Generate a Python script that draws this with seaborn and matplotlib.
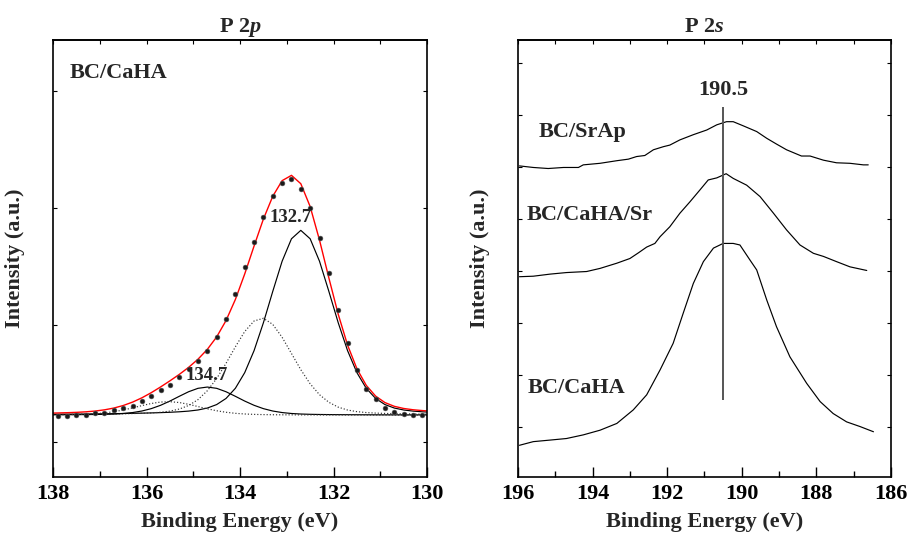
import numpy as np
import pandas as pd
import matplotlib
matplotlib.use("Agg")
import matplotlib.pyplot as plt
from matplotlib.ticker import MultipleLocator
import seaborn as sns

# ---------------- P 2p (BC/CaHA): measured points ----------------
p2p_energy = np.linspace(137.9, 130.1, 40)
p2p_counts = [1221, 1221, 1230, 1230, 1247, 1247, 1273, 1290, 1307, 1350,
              1392, 1444, 1486, 1555, 1623, 1692, 1777, 1897, 2051, 2264,
              2495, 2709, 2922, 3102, 3213, 3247, 3162, 2999, 2743, 2444,
              2127, 1845, 1615, 1452, 1367, 1290, 1256, 1239, 1230, 1230]

# fitted components (2p3/2 solid, 2p1/2 dotted)
p2p_background = 1230
comp_centers = [132.7, 133.54, 134.7, 135.54]
comp_heights = [1581, 830, 240, 115]
comp_fwhm = [1.6, 1.6, 1.6, 1.6]
comp_styles = ["-", ":", "-", ":"]
comp_eta = 0.2          # Lorentzian fraction of the pseudo-Voigt
peak_labels = ["132.7", "134.7"]

# ---------------- P 2s: three stacked spectra ----------------
srap_energy = [195.96, 195.59, 195.19, 194.78, 194.38, 194.25, 193.80, 193.35,
               193.04, 192.82, 192.60, 192.37, 192.10, 191.93, 191.66, 191.30,
               190.94, 190.67, 190.41, 190.23, 189.96, 189.60, 189.33, 189.07,
               188.80, 188.40, 188.17, 187.81, 187.46, 187.10, 186.74, 186.61]
srap_int = [6.02, 5.99, 5.97, 5.99, 5.99, 6.04, 6.07, 6.12,
            6.15, 6.20, 6.22, 6.33, 6.39, 6.42, 6.52, 6.62,
            6.71, 6.81, 6.87, 6.87, 6.79, 6.68, 6.55, 6.44,
            6.33, 6.21, 6.21, 6.13, 6.08, 6.07, 6.04, 6.04]

cahasr_energy = [195.96, 195.59, 195.14, 194.70, 194.16, 193.80, 193.35, 193.00,
                 192.77, 192.55, 192.33, 192.19, 191.93, 191.66, 191.39, 191.12,
                 190.90, 190.67, 190.42, 190.23, 189.87, 189.51, 189.15, 188.80,
                 188.44, 188.08, 187.81, 187.46, 187.10, 186.65]
cahasr_int = [3.89, 3.90, 3.94, 3.97, 3.99, 4.05, 4.15, 4.24,
              4.35, 4.46, 4.53, 4.66, 4.85, 5.11, 5.33, 5.56,
              5.75, 5.79, 5.87, 5.78, 5.65, 5.43, 5.11, 4.79,
              4.50, 4.34, 4.28, 4.18, 4.08, 4.01]

caha_energy = [195.96, 195.59, 195.14, 194.70, 194.25, 193.80, 193.35, 192.91,
               192.55, 192.19, 191.84, 191.57, 191.30, 191.03, 190.76, 190.50,
               190.23, 190.05, 189.78, 189.60, 189.33, 189.07, 188.71, 188.26,
               187.90, 187.55, 187.19, 186.83, 186.47]
caha_int = [0.65, 0.72, 0.75, 0.78, 0.85, 0.94, 1.07, 1.33,
            1.62, 2.10, 2.61, 3.19, 3.76, 4.18, 4.44, 4.53,
            4.53, 4.50, 4.21, 4.02, 3.44, 2.93, 2.35, 1.84,
            1.49, 1.26, 1.10, 1.01, 0.91]

p2s_names = ["BC/SrAp", "BC/CaHA/Sr", "BC/CaHA"]
p2s_peak = 190.5


def pseudo_voigt(x, center, height, fwhm, eta):
    hw = fwhm / 2.0
    g = np.exp(-np.log(2) * ((x - center) / hw) ** 2)
    lor = 1.0 / (1.0 + ((x - center) / hw) ** 2)
    return height * ((1 - eta) * g + eta * lor)


sns.set_style("ticks")
plt.rcParams.update({
    "font.family": ["Liberation Serif", "DejaVu Serif"],
    "font.weight": "bold",
    "font.size": 16,
    "axes.labelweight": "bold",
    "axes.titleweight": "bold",
    "mathtext.fontset": "custom",
    "mathtext.rm": "Liberation Serif:bold",
    "mathtext.it": "Liberation Serif:italic:bold",
    "mathtext.bf": "Liberation Serif:bold",
    "axes.linewidth": 1.2,
    "axes.edgecolor": "black",
    "xtick.color": "black",
    "ytick.color": "black",
    "xtick.direction": "in",
    "ytick.direction": "in",
})

fig = plt.figure(figsize=(9.16, 5.37), dpi=100)
ax1 = fig.add_axes([0.0579, 0.1117, 0.4083, 0.8138])
ax2 = fig.add_axes([0.5655, 0.1117, 0.4072, 0.8138])

# ---------------- left panel ----------------
grid = np.concatenate([[138.0], p2p_energy, [130.0]])
envelope = np.full_like(grid, float(p2p_background))
for c, h, w, ls in zip(comp_centers, comp_heights, comp_fwhm, comp_styles):
    comp = pseudo_voigt(grid, c, h, w, comp_eta)
    envelope += comp
    sns.lineplot(x=grid, y=p2p_background + comp, ax=ax1, sort=False,
                 estimator=None, color="black" if ls == "-" else "#333333",
                 linestyle=ls, lw=0.85)
sns.lineplot(x=grid, y=envelope, ax=ax1, sort=False, estimator=None,
             color="red", lw=1.0)
sns.scatterplot(x=p2p_energy, y=p2p_counts, ax=ax1, s=12, color="#1a1a1a",
                edgecolor="#555555", linewidth=0.4, zorder=5)

for lab, c, h, off in zip(peak_labels, [comp_centers[0], comp_centers[2]],
                          [comp_heights[0], comp_heights[2]],
                          [(-7, 9.5), (-0.5, 8.5)]):
    ax1.annotate(lab, xy=(c, p2p_background + h), xytext=off,
                 textcoords="offset points", ha="center", va="center",
                 fontsize=13.5, fontweight="bold", zorder=6)

ax1.text(137.64, 4158, "BC/CaHA", ha="left", va="center", fontsize=16,
         fontweight="bold")

ax1.set_xlim(138, 130)
ax1.set_ylim(700, 4440)
ax1.xaxis.set_major_locator(MultipleLocator(2))
ax1.xaxis.set_minor_locator(MultipleLocator(1))
ax1.yaxis.set_major_locator(MultipleLocator(1000))
ax1.set_title(r"P 2$\mathit{p}$", fontsize=16, fontweight="bold", pad=6)

# ---------------- right panel ----------------
for e, i in [(srap_energy, srap_int), (cahasr_energy, cahasr_int),
             (caha_energy, caha_int)]:
    sns.lineplot(x=e, y=i, ax=ax2, sort=False, estimator=None,
                 color="black", lw=0.85)

ax2.vlines(p2s_peak, 1.52, 7.15, color="#555555", lw=1.4)
ax2.text(p2s_peak, 7.48, f"{p2s_peak:.1f}", ha="center", va="center",
         fontsize=16, fontweight="bold")
for name, xy in zip(p2s_names, [(195.46, 6.67), (195.76, 5.08), (195.73, 1.75)]):
    ax2.text(xy[0], xy[1], name, ha="left", va="center", fontsize=16,
             fontweight="bold")

ax2.set_xlim(196, 186)
ax2.set_ylim(0.04, 8.44)
ax2.xaxis.set_major_locator(MultipleLocator(2))
ax2.xaxis.set_minor_locator(MultipleLocator(1))
ax2.yaxis.set_major_locator(MultipleLocator(1))
ax2.set_title(r"P 2$\mathit{s}$", fontsize=16, fontweight="bold", pad=6)

# ---------------- shared styling ----------------
for ax in (ax1, ax2):
    ax.set_xlabel("Binding Energy (eV)", fontsize=16, fontweight="bold")
    ax.set_ylabel("Intensity (a.u.)", fontsize=16, fontweight="bold")
    ax.xaxis.set_label_coords(0.5, -0.08)
    ax.yaxis.set_label_coords(-0.075, 0.5)
    ax.tick_params(axis="x", which="major", length=7, width=1.0, pad=5,
                   labelsize=16, bottom=True, top=False)
    ax.tick_params(axis="x", which="minor", length=4, width=1.0,
                   bottom=True, top=False)
    ax.tick_params(axis="y", which="major", length=3, width=0.8,
                   left=True, right=True, labelleft=False)
    ax.tick_params(axis="y", which="minor", left=False, right=False)
    for lab in ax.get_xticklabels():
        lab.set_fontweight("bold")
    top = ax.secondary_xaxis("top")
    top.xaxis.set_major_locator(MultipleLocator(1))
    top.tick_params(axis="x", direction="in", length=3, width=0.8,
                    labeltop=False)
    for sp in ax.spines.values():
        sp.set_visible(True)
        sp.set_linewidth(1.2)
        sp.set_color("black")

fig.savefig("out.png", dpi=100, facecolor="white")
